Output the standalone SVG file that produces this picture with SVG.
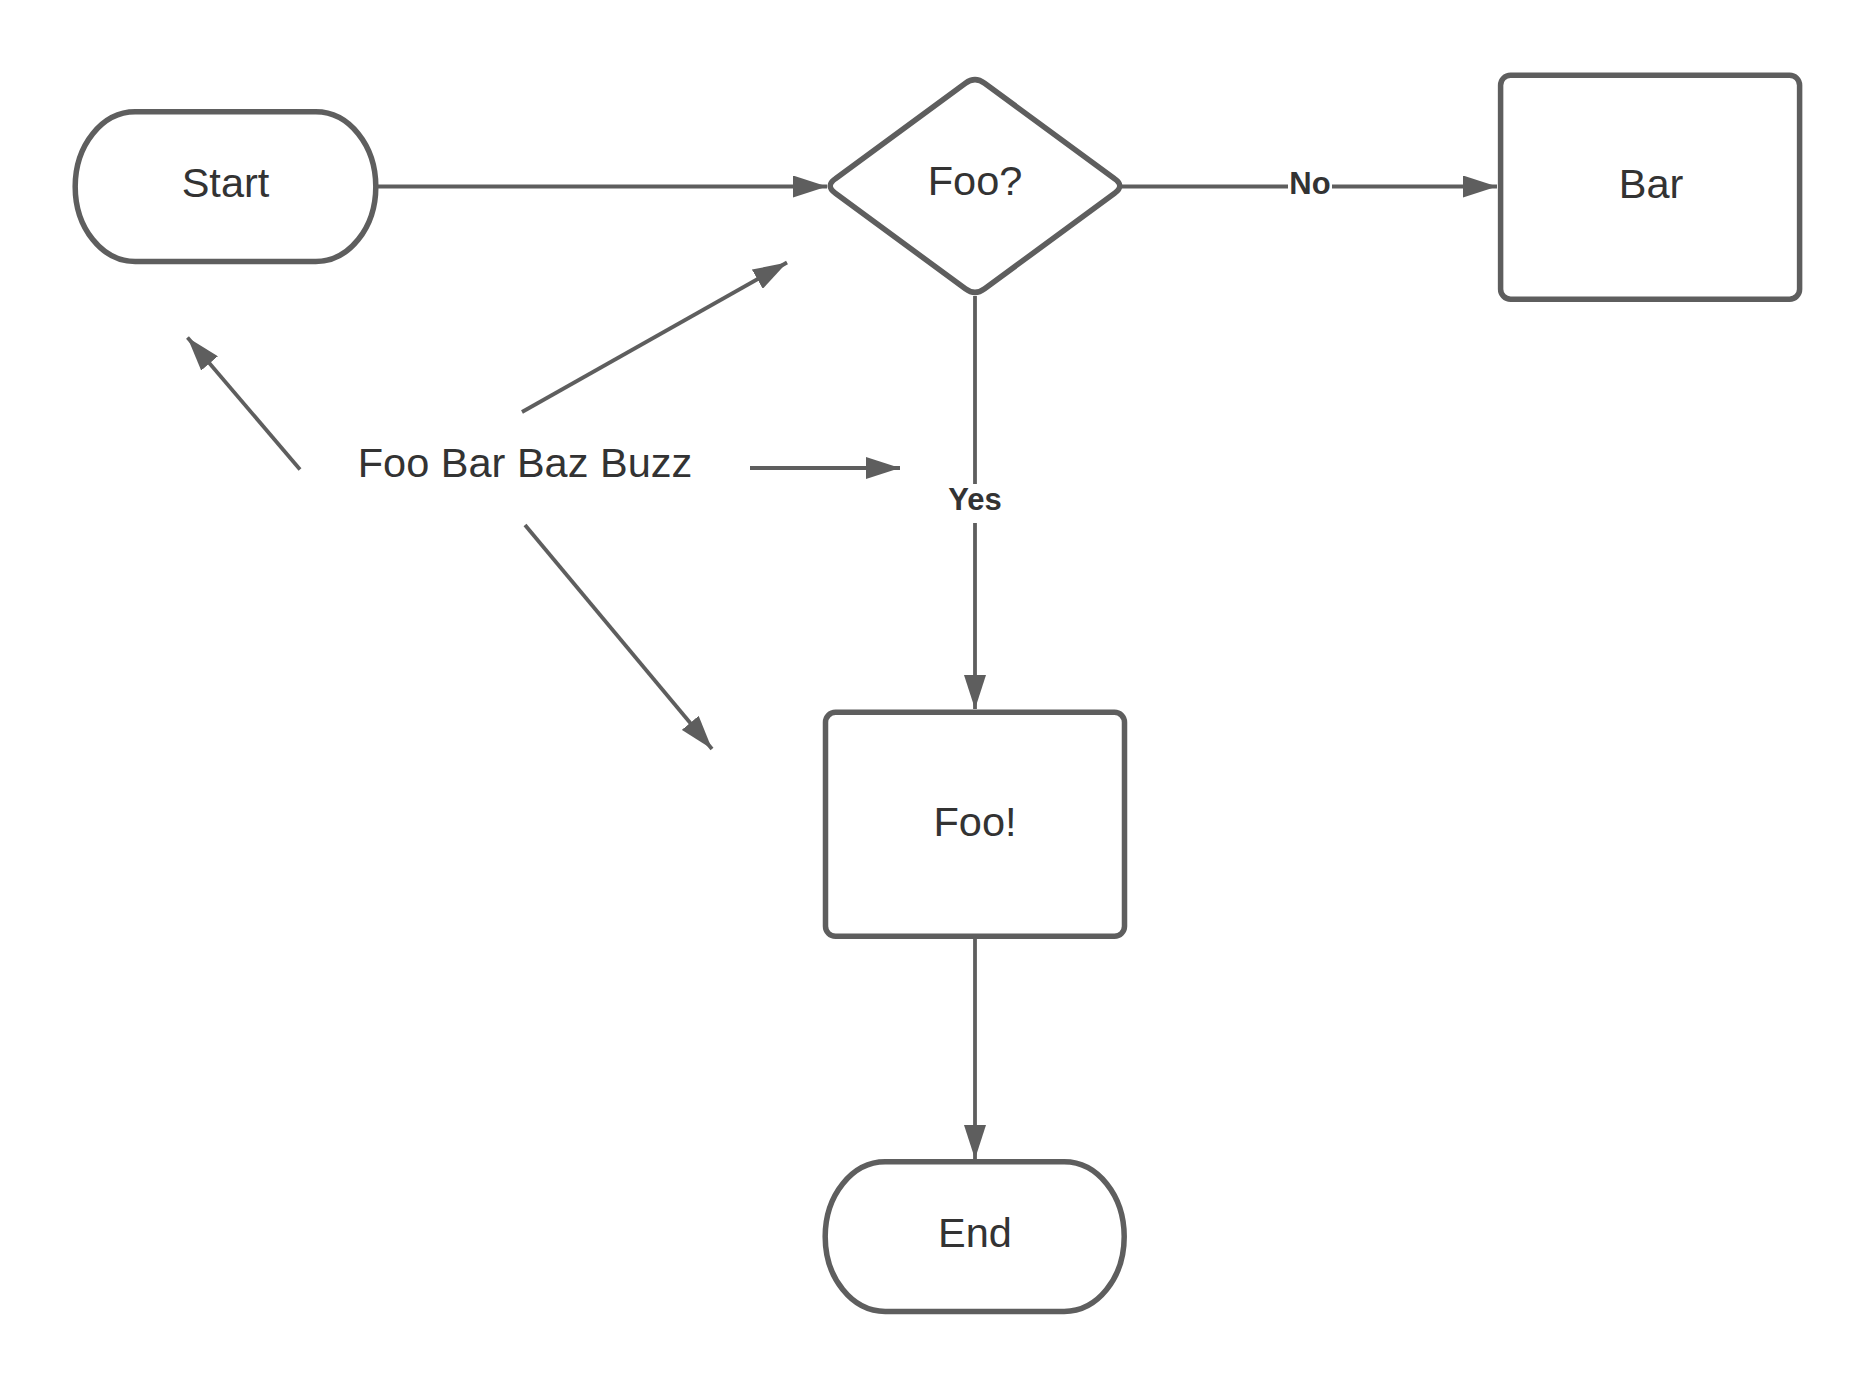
<svg xmlns="http://www.w3.org/2000/svg" width="1875" height="1388" viewBox="0 0 1875 1388">
<style>
.shape{fill:#ffffff;stroke:#5e5e5e;stroke-width:5.5;}
.lbl{font-family:"Liberation Sans",Arial,sans-serif;font-size:41.5px;fill:#333333;text-anchor:middle;}
.elbl{font-family:"Liberation Sans",Arial,sans-serif;font-size:31px;font-weight:bold;fill:#333333;text-anchor:middle;}
.conn{fill:none;stroke:#5e5e5e;stroke-width:3.8;}
.bg{fill:#ffffff;}
</style>
<defs>
<marker id="arrow" markerUnits="userSpaceOnUse" markerWidth="34" markerHeight="22" refX="34" refY="11" orient="auto" viewBox="0 0 34 22">
<path d="M0,0 L34,11 L0,22 Z" fill="#5e5e5e"/>
</marker>
</defs>
<rect width="1875" height="1388" fill="#ffffff"/>
<g id="connectors">
<line class="conn" x1="378" y1="186.5" x2="827" y2="186.5" marker-end="url(#arrow)"/>
<line class="conn" x1="1122" y1="186.5" x2="1497" y2="186.5" marker-end="url(#arrow)"/>
<line class="conn" x1="975" y1="296" x2="975" y2="709" marker-end="url(#arrow)"/>
<line class="conn" x1="975" y1="939" x2="975" y2="1159" marker-end="url(#arrow)"/>
<line class="conn" x1="300" y1="469.5" x2="187.5" y2="337.5" marker-end="url(#arrow)"/>
<line class="conn" x1="522" y1="412" x2="787" y2="262.5" marker-end="url(#arrow)"/>
<line class="conn" x1="750" y1="468" x2="900" y2="468" marker-end="url(#arrow)"/>
<line class="conn" x1="525" y1="525" x2="712" y2="749" marker-end="url(#arrow)"/>
<g id="label-no">
<rect class="bg" x="1288" y="170" width="44" height="30"/>
<text class="elbl" x="1310" y="193.5">No</text>
</g>
<g id="label-yes">
<rect class="bg" x="945" y="484" width="60" height="39"/>
<text class="elbl" x="975" y="510">Yes</text>
</g>
</g>
<g id="start">
<rect class="shape" x="75.2" y="111.8" width="300.6" height="149.7" rx="60" ry="74.8"/>
<text class="lbl" x="225.5" y="196.5">Start</text>
</g>
<g id="decision">
<path class="shape" d="M835.4,178.8 L965.4,83.2 Q975,76 984.6,83.2 L1114.6,178.8 Q1125,186 1114.6,193.2 L984.6,288.8 Q975,296 965.4,288.8 L835.4,193.2 Q825,186 835.4,178.8 Z"/>
<text class="lbl" x="975" y="194.5">Foo?</text>
</g>
<g id="bar">
<rect class="shape" x="1500.6" y="75.2" width="299" height="224" rx="10" ry="10"/>
<text class="lbl" x="1651" y="197.5">Bar</text>
</g>
<g id="foo-action">
<rect class="shape" x="825.5" y="712.3" width="299" height="224" rx="10" ry="10"/>
<text class="lbl" x="975" y="835.5">Foo!</text>
</g>
<g id="end">
<rect class="shape" x="825.2" y="1161.8" width="299" height="149.7" rx="60" ry="74.8"/>
<text class="lbl" x="975" y="1246.5">End</text>
</g>
<g id="note">
<text class="lbl" x="525" y="477" style="font-size:41.5px">Foo Bar Baz Buzz</text>
</g>
</svg>
